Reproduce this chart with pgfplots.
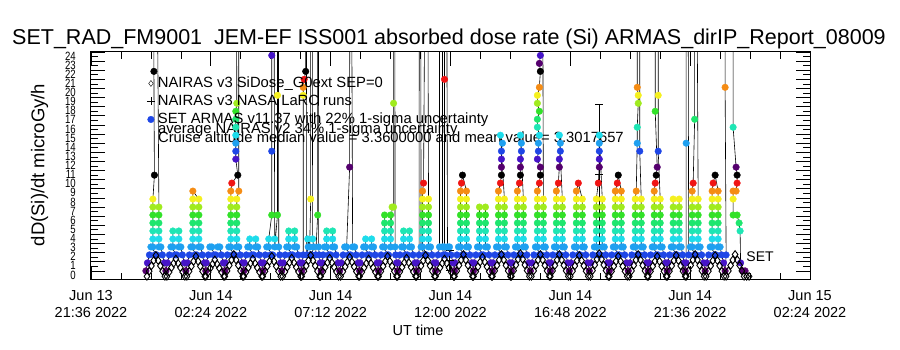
\documentclass[border=0pt]{standalone}
\usepackage{fontspec}
\setmainfont{Liberation Sans}
\newfontfamily\narrowfont{Liberation Sans}[FakeStretch=0.8]
\usepackage{pgfplots}
\usepackage{pgfplotstable}
\pgfplotsset{compat=1.18}
\definecolor{cblue}{RGB}{30,70,230}
\definecolor{k0}{RGB}{85,0,110}
\definecolor{k1}{RGB}{70,20,200}
\definecolor{k2}{RGB}{30,70,230}
\definecolor{k3}{RGB}{30,160,240}
\definecolor{k4}{RGB}{30,220,235}
\definecolor{k5}{RGB}{30,230,180}
\definecolor{k6}{RGB}{30,230,110}
\definecolor{k7}{RGB}{50,225,40}
\definecolor{k8}{RGB}{160,235,30}
\definecolor{k9}{RGB}{245,240,30}
\definecolor{k10}{RGB}{245,140,20}
\definecolor{k11}{RGB}{240,20,20}
\definecolor{k12}{RGB}{0,0,0}
\newcommand\legfont{\fontsize{14.8}{16}\selectfont}
\newcommand\tkfont{\fontsize{14.5}{16.5}\selectfont}

% SET ARMAS dose rate (x: hours after Jun 13 21:36 UT, y: microGy/h, c: colour class)
\pgfplotstableread[row sep=\\]{
x y c\\
2.20 0 0\\2.26 0.875 1\\2.34 1.75 2\\2.56 1.75 2\\2.64 1.75 2\\2.40 2.625 3\\2.48 2.625 3\\2.48 3.5 4\\2.48 4.375 5\\2.48 5.25 6\\2.48 6.125 7\\2.48 7 8\\2.48 7.875 9\\2.54 10.5 12\\2.52 21.875 12\\2.50 60 0\\2.58 60 0\\2.72 7 8\\2.72 6.125 7\\2.72 5.25 6\\2.72 4.375 5\\2.72 3.5 4\\2.72 2.625 3\\2.80 2.625 3\\2.86 1.75 2\\2.94 0.875 1\\3.00 0 0\\
3.06 0.875 1\\3.14 1.75 2\\3.36 1.75 2\\3.44 1.75 2\\3.20 2.625 3\\3.28 2.625 3\\3.28 3.5 4\\3.28 4.375 5\\3.52 4.375 5\\3.52 3.5 4\\3.52 2.625 3\\3.60 2.625 3\\3.66 1.75 2\\3.74 0.875 1\\3.80 0 0\\
3.86 0.875 1\\3.94 1.75 2\\4.16 1.75 2\\4.24 1.75 2\\4.00 2.625 3\\4.08 2.625 3\\4.08 3.5 4\\4.08 4.375 5\\4.08 5.25 6\\4.08 6.125 7\\4.08 7 8\\4.08 7.875 9\\4.08 8.75 10\\4.32 7.875 9\\4.32 7 8\\4.32 6.125 7\\4.32 5.25 6\\4.32 4.375 5\\4.32 3.5 4\\4.32 2.625 3\\4.40 2.625 3\\4.46 1.75 2\\4.54 0.875 1\\4.60 0 0\\
4.62 0.875 1\\4.70 1.75 2\\4.92 1.75 2\\5.00 1.75 2\\4.76 2.625 3\\4.84 2.625 3\\5.08 2.625 3\\5.16 2.625 3\\5.22 1.75 2\\5.30 0.875 1\\5.36 0 0\\
5.38 0.875 1\\5.46 1.75 2\\5.68 1.75 2\\5.76 1.75 2\\5.52 2.625 3\\5.60 2.625 3\\5.60 3.5 4\\5.60 4.375 5\\5.60 5.25 6\\5.60 6.125 7\\5.60 7 8\\5.60 7.875 9\\5.60 8.75 10\\5.64 9.625 11\\5.88 10.5 12\\5.80 12.25 1\\5.80 13.125 2\\5.80 14 3\\5.80 14.875 4\\5.80 15.75 5\\5.80 16.625 6\\5.80 17.5 7\\5.84 18.375 8\\5.80 60 0\\5.92 60 0\\5.92 8.75 10\\5.84 7.875 9\\5.84 7 8\\5.84 6.125 7\\5.84 5.25 6\\5.84 4.375 5\\5.84 3.5 4\\5.84 2.625 3\\5.92 2.625 3\\5.98 1.75 2\\6.06 0.875 1\\6.12 0 0\\
6.14 0.875 1\\6.22 1.75 2\\6.44 1.75 2\\6.52 1.75 2\\6.28 2.625 3\\6.36 2.625 3\\6.36 3.5 4\\6.60 3.5 4\\6.60 2.625 3\\6.68 2.625 3\\6.74 1.75 2\\6.82 0.875 1\\6.88 0 0\\
6.90 0.875 1\\6.98 1.75 2\\7.20 1.75 2\\7.28 1.75 2\\7.04 2.625 3\\7.12 2.625 3\\7.12 3.5 4\\7.24 6.125 7\\7.24 13.125 2\\7.24 23.625 1\\7.25 60 0\\7.30 60 0\\7.36 3.5 4\\7.36 2.625 3\\7.47 6.125 7\\7.47 19.25 9\\7.47 60 0\\7.49 60 0\\7.52 2.625 3\\7.56 1.75 2\\7.60 0.875 1\\7.64 0 0\\
7.70 0.875 1\\7.78 1.75 2\\8.00 1.75 2\\8.08 1.75 2\\7.84 2.625 3\\7.92 2.625 3\\7.92 3.5 4\\7.92 4.375 5\\8.16 4.375 5\\8.16 3.5 4\\8.16 2.625 3\\8.24 2.625 3\\8.30 1.75 2\\8.38 0.875 1\\8.44 0 0\\
8.46 0.875 1\\8.50 1.75 2\\8.50 19.25 9\\8.50 20.125 10\\8.54 21 11\\8.60 21.875 12\\8.58 60 0\\8.62 60 0\\8.64 1.75 2\\8.70 2.625 3\\8.68 3.5 4\\8.76 2.625 3\\8.80 7.875 9\\8.80 60 0\\8.84 60 0\\8.88 3.5 4\\8.92 2.625 3\\8.84 1.75 2\\8.76 1.75 2\\9.00 1.75 2\\9.08 6.125 7\\9.08 60 0\\9.10 60 0\\9.12 2.625 3\\9.14 1.75 2\\9.18 0.875 1\\9.22 0 0\\
9.26 0.875 1\\9.30 1.75 2\\9.52 1.75 2\\9.60 1.75 2\\9.36 2.625 3\\9.44 2.625 3\\9.44 3.5 4\\9.44 4.375 5\\9.68 4.375 5\\9.68 3.5 4\\9.68 2.625 3\\9.76 2.625 3\\9.82 1.75 2\\9.90 0.875 1\\9.96 0 0\\
10.02 0.875 1\\10.10 1.75 2\\10.32 1.75 2\\10.40 1.75 2\\10.16 2.625 3\\10.24 2.625 3\\10.36 11.375 0\\10.37 60 0\\10.40 60 0\\10.48 2.625 3\\10.56 2.625 3\\10.62 1.75 2\\10.70 0.875 1\\10.76 0 0\\
10.78 0.875 1\\10.86 1.75 2\\11.08 1.75 2\\11.16 1.75 2\\10.92 2.625 3\\11.00 2.625 3\\11.00 3.5 4\\11.24 3.5 4\\11.24 2.625 3\\11.32 2.625 3\\11.38 1.75 2\\11.46 0.875 1\\11.52 0 0\\
11.54 0.875 1\\11.62 1.75 2\\11.84 1.75 2\\11.92 1.75 2\\11.68 2.625 3\\11.76 2.625 3\\11.76 3.5 4\\11.76 4.375 5\\11.76 5.25 6\\11.76 6.125 7\\12.00 6.125 7\\12.00 5.25 6\\12.00 4.375 5\\12.00 3.5 4\\12.00 2.625 3\\12.06 7 8\\12.12 7 8\\12.12 18.375 8\\12.12 60 0\\12.16 60 0\\12.18 2.625 3\\12.20 1.75 2\\12.24 0.875 1\\12.28 0 0\\
12.30 0.875 1\\12.38 1.75 2\\12.60 1.75 2\\12.68 1.75 2\\12.44 2.625 3\\12.52 2.625 3\\12.52 3.5 4\\12.52 4.375 5\\12.76 4.375 5\\12.76 3.5 4\\12.76 2.625 3\\12.84 2.625 3\\12.90 1.75 2\\12.98 0.875 1\\13.04 0 0\\
13.06 0.875 1\\13.14 1.75 2\\13.16 60 0\\13.20 60 0\\13.22 2.625 3\\13.36 1.75 2\\13.44 1.75 2\\13.28 2.625 3\\13.28 3.5 4\\13.28 4.375 5\\13.28 5.25 6\\13.28 6.125 7\\13.28 7 8\\13.28 7.875 9\\13.28 8.75 10\\13.32 9.625 11\\13.44 60 0\\13.46 60 0\\13.52 7.875 9\\13.52 7 8\\13.52 6.125 7\\13.52 5.25 6\\13.52 4.375 5\\13.52 3.5 4\\13.52 2.625 3\\13.60 2.625 3\\13.66 1.75 2\\13.74 0.875 1\\13.80 0 0\\
13.82 0.875 1\\13.90 1.75 2\\13.96 2.625 3\\13.96 60 0\\14.08 60 0\\14.08 2.625 3\\14.12 1.75 2\\14.20 1.75 2\\14.16 2.625 3\\14.16 21 11\\14.18 60 0\\14.22 60 0\\14.28 2.625 3\\14.36 2.625 3\\14.42 1.75 2\\14.50 0.875 1\\14.56 0 0\\
14.58 0.875 1\\14.66 1.75 2\\14.88 1.75 2\\14.96 1.75 2\\14.72 2.625 3\\14.80 2.625 3\\14.80 3.5 4\\14.80 4.375 5\\14.80 5.25 6\\14.80 6.125 7\\14.80 7 8\\14.80 7.875 9\\14.80 8.75 10\\14.84 9.625 11\\14.88 10.5 12\\15.04 8.75 10\\15.04 7.875 9\\15.04 7 8\\15.04 6.125 7\\15.04 5.25 6\\15.04 4.375 5\\15.04 3.5 4\\15.04 2.625 3\\15.12 2.625 3\\15.18 1.75 2\\15.26 0.875 1\\15.32 0 0\\
15.34 0.875 1\\15.42 1.75 2\\15.64 1.75 2\\15.72 1.75 2\\15.48 2.625 3\\15.56 2.625 3\\15.56 3.5 4\\15.56 4.375 5\\15.56 5.25 6\\15.56 6.125 7\\15.56 7 8\\15.80 7 8\\15.80 6.125 7\\15.80 5.25 6\\15.80 4.375 5\\15.80 3.5 4\\15.80 2.625 3\\15.88 2.625 3\\15.94 1.75 2\\16.02 0.875 1\\16.08 0 0\\
16.10 0.875 1\\16.18 1.75 2\\16.40 1.75 2\\16.48 1.75 2\\16.24 2.625 3\\16.32 2.625 3\\16.32 3.5 4\\16.32 4.375 5\\16.32 5.25 6\\16.32 6.125 7\\16.32 7 8\\16.32 7.875 9\\16.32 8.75 10\\16.40 9.625 11\\16.44 10.5 12\\16.44 11.375 0\\16.44 12.25 1\\16.44 13.125 2\\16.48 14 3\\16.40 14.875 4\\16.56 7.875 9\\16.56 7 8\\16.56 6.125 7\\16.56 5.25 6\\16.56 4.375 5\\16.56 3.5 4\\16.56 2.625 3\\16.64 2.625 3\\16.70 1.75 2\\16.78 0.875 1\\16.84 0 0\\
16.86 0.875 1\\16.94 1.75 2\\17.16 1.75 2\\17.24 1.75 2\\17.00 2.625 3\\17.08 2.625 3\\17.08 3.5 4\\17.08 4.375 5\\17.08 5.25 6\\17.08 6.125 7\\17.08 7 8\\17.08 7.875 9\\17.08 8.75 10\\17.16 9.625 11\\17.20 10.5 12\\17.20 11.375 0\\17.20 12.25 1\\17.24 13.125 2\\17.24 14 3\\17.20 14.875 4\\17.32 7.875 9\\17.32 7 8\\17.32 6.125 7\\17.32 5.25 6\\17.32 4.375 5\\17.32 3.5 4\\17.32 2.625 3\\17.40 2.625 3\\17.46 1.75 2\\17.54 0.875 1\\17.60 0 0\\
17.66 0.875 1\\17.74 1.75 2\\17.96 1.75 2\\18.04 1.75 2\\17.80 2.625 3\\17.88 2.625 3\\17.88 3.5 4\\17.88 4.375 5\\17.88 5.25 6\\17.88 6.125 7\\17.88 7 8\\17.88 7.875 9\\17.88 8.75 10\\17.96 9.625 11\\18.00 10.5 12\\18.00 11.375 0\\17.88 12.25 1\\17.92 13.125 2\\17.92 14 3\\17.96 14.875 4\\17.88 15.75 5\\17.88 16.625 6\\17.96 17.5 7\\17.88 18.375 8\\17.88 19.25 9\\17.96 20.125 10\\18.00 21.875 12\\17.96 22.75 0\\18.00 23.625 1\\17.98 60 0\\18.06 60 0\\18.12 7.875 9\\18.12 7 8\\18.12 6.125 7\\18.12 5.25 6\\18.12 4.375 5\\18.12 3.5 4\\18.12 2.625 3\\18.20 2.625 3\\18.26 1.75 2\\18.34 0.875 1\\18.40 0 0\\
18.42 0.875 1\\18.50 1.75 2\\18.72 1.75 2\\18.80 1.75 2\\18.56 2.625 3\\18.64 2.625 3\\18.64 3.5 4\\18.64 4.375 5\\18.64 5.25 6\\18.64 6.125 7\\18.64 7 8\\18.64 7.875 9\\18.64 8.75 10\\18.72 9.625 11\\18.76 11.375 0\\18.76 12.25 1\\18.80 13.125 2\\18.80 14 3\\18.76 14.875 4\\18.88 7.875 9\\18.88 7 8\\18.88 6.125 7\\18.88 5.25 6\\18.88 4.375 5\\18.88 3.5 4\\18.88 2.625 3\\18.96 2.625 3\\19.02 1.75 2\\19.10 0.875 1\\19.16 0 0\\
19.22 0.875 1\\19.30 1.75 2\\19.52 1.75 2\\19.60 1.75 2\\19.36 2.625 3\\19.44 2.625 3\\19.44 3.5 4\\19.44 4.375 5\\19.44 5.25 6\\19.44 6.125 7\\19.44 7 8\\19.44 7.875 9\\19.44 8.75 10\\19.52 9.625 11\\19.68 7.875 9\\19.68 7 8\\19.68 6.125 7\\19.68 5.25 6\\19.68 4.375 5\\19.68 3.5 4\\19.68 2.625 3\\19.76 2.625 3\\19.82 1.75 2\\19.90 0.875 1\\19.96 0 0\\
20.02 0.875 1\\20.10 1.75 2\\20.32 1.75 2\\20.40 1.75 2\\20.16 2.625 3\\20.24 2.625 3\\20.24 3.5 4\\20.24 4.375 5\\20.24 5.25 6\\20.24 6.125 7\\20.24 7 8\\20.24 7.875 9\\20.32 9.625 11\\20.36 11.375 0\\20.36 12.25 1\\20.36 13.125 2\\20.36 14 3\\20.36 14.875 4\\20.48 7.875 9\\20.48 7 8\\20.48 6.125 7\\20.48 5.25 6\\20.48 4.375 5\\20.48 3.5 4\\20.48 2.625 3\\20.56 2.625 3\\20.62 1.75 2\\20.70 0.875 1\\20.76 0 0\\
20.78 0.875 1\\20.86 1.75 2\\21.08 1.75 2\\21.16 1.75 2\\20.92 2.625 3\\21.00 2.625 3\\21.00 3.5 4\\21.00 4.375 5\\21.00 5.25 6\\21.00 6.125 7\\21.00 7 8\\21.00 7.875 9\\21.00 8.75 10\\21.08 9.625 11\\21.12 10.5 12\\21.24 8.75 10\\21.24 7.875 9\\21.24 7 8\\21.24 6.125 7\\21.24 5.25 6\\21.24 4.375 5\\21.24 3.5 4\\21.24 2.625 3\\21.32 2.625 3\\21.38 1.75 2\\21.46 0.875 1\\21.52 0 0\\
21.58 0.875 1\\21.66 1.75 2\\21.88 1.75 2\\21.96 1.75 2\\21.72 2.625 3\\21.80 2.625 3\\21.80 3.5 4\\21.80 4.375 5\\21.80 5.25 6\\21.80 6.125 7\\21.80 7 8\\21.80 7.875 9\\21.84 8.75 10\\21.88 14 3\\21.88 15.75 5\\21.92 18.375 8\\21.92 19.25 9\\21.88 20.125 10\\21.90 60 0\\21.98 60 0\\21.98 13.125 2\\22.04 7.875 9\\22.04 7 8\\22.04 6.125 7\\22.04 5.25 6\\22.04 4.375 5\\22.04 3.5 4\\22.04 2.625 3\\22.12 2.625 3\\22.18 1.75 2\\22.26 0.875 1\\22.32 0 0\\
22.34 0.875 1\\22.42 1.75 2\\22.64 1.75 2\\22.72 1.75 2\\22.48 2.625 3\\22.56 2.625 3\\22.56 3.5 4\\22.56 4.375 5\\22.56 5.25 6\\22.56 6.125 7\\22.56 7 8\\22.56 7.875 9\\22.56 8.75 10\\22.60 9.625 11\\22.64 10.5 12\\22.68 11.375 0\\22.60 17.5 7\\22.60 60 0\\22.72 60 0\\22.72 19.25 9\\22.72 13.125 2\\22.80 7.875 9\\22.80 7 8\\22.80 6.125 7\\22.80 5.25 6\\22.80 4.375 5\\22.80 3.5 4\\22.80 2.625 3\\22.88 2.625 3\\22.94 1.75 2\\23.02 0.875 1\\23.08 0 0\\
23.10 0.875 1\\23.18 1.75 2\\23.40 1.75 2\\23.48 1.75 2\\23.24 2.625 3\\23.32 2.625 3\\23.32 3.5 4\\23.32 4.375 5\\23.32 5.25 6\\23.32 6.125 7\\23.32 7 8\\23.32 7.875 9\\23.56 7.875 9\\23.56 7 8\\23.56 6.125 7\\23.56 5.25 6\\23.56 4.375 5\\23.56 3.5 4\\23.56 2.625 3\\23.64 2.625 3\\23.70 1.75 2\\23.76 0.875 1\\
23.80 0 0\\23.84 0.875 1\\23.84 14 3\\23.84 60 0\\23.90 60 0\\23.94 1.75 2\\24.16 1.75 2\\24.24 1.75 2\\24.00 2.625 3\\24.08 2.625 3\\24.08 3.5 4\\24.08 4.375 5\\24.08 5.25 6\\24.08 6.125 7\\24.08 7 8\\24.08 7.875 9\\24.08 8.75 10\\24.12 9.625 11\\24.18 16.625 6\\24.16 60 0\\24.22 60 0\\24.32 7.875 9\\24.32 7 8\\24.32 6.125 7\\24.32 5.25 6\\24.32 4.375 5\\24.32 3.5 4\\24.32 2.625 3\\24.40 2.625 3\\24.46 1.75 2\\24.54 0.875 1\\24.60 0 0\\
24.66 0.875 1\\24.74 1.75 2\\24.96 1.75 2\\25.04 1.75 2\\24.80 2.625 3\\24.88 2.625 3\\24.88 3.5 4\\24.88 4.375 5\\24.88 5.25 6\\24.88 6.125 7\\24.88 7 8\\24.88 7.875 9\\24.88 8.75 10\\24.92 9.625 11\\25.00 10.5 12\\25.12 8.75 10\\25.12 7.875 9\\25.12 7 8\\25.12 6.125 7\\25.12 5.25 6\\25.12 4.375 5\\25.12 3.5 4\\25.12 2.625 3\\25.20 2.625 3\\25.26 1.75 2\\25.34 0.875 1\\25.40 0 0\\
25.44 1.75 2\\25.40 20.125 10\\25.40 60 0\\25.72 60 0\\25.72 15.75 5\\25.84 11.375 0\\25.88 10.5 12\\25.88 9.625 11\\25.84 8.75 10\\25.72 8.75 10\\25.72 7.875 9\\25.72 6.125 7\\25.88 6.125 7\\25.96 5.25 6\\26.00 4.375 5\\26.02 0.875 1\\26.10 0 0\\26.20 0 0\\
}\armas

% NAIRAS v3 SiDose model
\pgfplotstableread[row sep=\\]{
x y\\
2.24 -0.6\\2.33 -0.03\\2.42 0.55\\2.51 1.13\\2.60 1.7\\2.69 1.13\\2.78 0.55\\2.87 -0.03\\2.96 -0.6\\
3.04 -0.6\\3.13 -0.13\\3.22 0.35\\3.31 0.83\\3.40 1.3\\3.49 0.83\\3.58 0.35\\3.67 -0.13\\3.76 -0.6\\
3.84 -0.6\\3.93 -0.05\\4.02 0.5\\4.11 1.05\\4.20 1.6\\4.29 1.05\\4.38 0.5\\4.47 -0.05\\4.56 -0.6\\
4.60 -0.6\\4.69 -0.15\\4.78 0.3\\4.87 0.75\\4.96 1.2\\5.05 0.75\\5.14 0.3\\5.23 -0.15\\5.32 -0.6\\
5.36 -0.6\\5.45 0\\5.54 0.6\\5.63 1.2\\5.72 1.8\\5.81 1.2\\5.90 0.6\\5.99 0\\6.08 -0.6\\
6.12 -0.6\\6.21 -0.13\\6.30 0.35\\6.39 0.83\\6.48 1.3\\6.57 0.83\\6.66 0.35\\6.75 -0.13\\6.84 -0.6\\
6.88 -0.6\\6.97 -0.05\\7.06 0.5\\7.15 1.05\\7.24 1.6\\7.33 1.05\\7.42 0.5\\7.51 -0.05\\7.60 -0.6\\
7.68 -0.6\\7.77 -0.1\\7.86 0.4\\7.95 0.9\\8.04 1.4\\8.13 0.9\\8.22 0.4\\8.31 -0.1\\8.40 -0.6\\
8.44 -0.6\\8.53 -0.03\\8.62 0.55\\8.71 1.13\\8.80 1.7\\8.89 1.13\\8.98 0.55\\9.07 -0.03\\9.16 -0.6\\
9.20 -0.6\\9.29 -0.1\\9.38 0.4\\9.47 0.9\\9.56 1.4\\9.65 0.9\\9.74 0.4\\9.83 -0.1\\9.92 -0.6\\
10.00 -0.6\\10.09 -0.08\\10.18 0.45\\10.27 0.98\\10.36 1.5\\10.45 0.98\\10.54 0.45\\10.63 -0.08\\10.72 -0.6\\
10.76 -0.6\\10.85 -0.13\\10.94 0.35\\11.03 0.83\\11.12 1.3\\11.21 0.83\\11.30 0.35\\11.39 -0.13\\11.48 -0.6\\
11.52 -0.6\\11.61 -0.05\\11.70 0.5\\11.79 1.05\\11.88 1.6\\11.97 1.05\\12.06 0.5\\12.15 -0.05\\12.24 -0.6\\
12.28 -0.6\\12.37 -0.1\\12.46 0.4\\12.55 0.9\\12.64 1.4\\12.73 0.9\\12.82 0.4\\12.91 -0.1\\13.00 -0.6\\
13.04 -0.6\\13.13 -0.03\\13.22 0.55\\13.31 1.13\\13.40 1.7\\13.49 1.13\\13.58 0.55\\13.67 -0.03\\13.76 -0.6\\
13.80 -0.6\\13.89 -0.13\\13.98 0.35\\14.07 0.83\\14.16 1.3\\14.25 0.83\\14.34 0.35\\14.43 -0.13\\14.52 -0.6\\
14.56 -0.6\\14.65 0\\14.74 0.6\\14.83 1.2\\14.92 1.8\\15.01 1.2\\15.10 0.6\\15.19 0\\15.28 -0.6\\
15.32 -0.6\\15.41 -0.08\\15.50 0.45\\15.59 0.98\\15.68 1.5\\15.77 0.98\\15.86 0.45\\15.95 -0.08\\16.04 -0.6\\
16.08 -0.6\\16.17 0\\16.26 0.6\\16.35 1.2\\16.44 1.8\\16.53 1.2\\16.62 0.6\\16.71 0\\16.80 -0.6\\
16.84 -0.6\\16.93 0.03\\17.02 0.65\\17.11 1.28\\17.20 1.9\\17.29 1.28\\17.38 0.65\\17.47 0.03\\17.56 -0.6\\
17.64 -0.6\\17.73 0\\17.82 0.6\\17.91 1.2\\18.00 1.8\\18.09 1.2\\18.18 0.6\\18.27 0\\18.36 -0.6\\
18.40 -0.6\\18.49 0\\18.58 0.6\\18.67 1.2\\18.76 1.8\\18.85 1.2\\18.94 0.6\\19.03 0\\19.12 -0.6\\
19.20 -0.6\\19.29 -0.03\\19.38 0.55\\19.47 1.13\\19.56 1.7\\19.65 1.13\\19.74 0.55\\19.83 -0.03\\19.92 -0.6\\
20.00 -0.6\\20.09 0.03\\20.18 0.65\\20.27 1.28\\20.36 1.9\\20.45 1.28\\20.54 0.65\\20.63 0.03\\20.72 -0.6\\
20.76 -0.6\\20.85 -0.05\\20.94 0.5\\21.03 1.05\\21.12 1.6\\21.21 1.05\\21.30 0.5\\21.39 -0.05\\21.48 -0.6\\
21.56 -0.6\\21.65 0\\21.74 0.6\\21.83 1.2\\21.92 1.8\\22.01 1.2\\22.10 0.6\\22.19 0\\22.28 -0.6\\
22.32 -0.6\\22.41 -0.05\\22.50 0.5\\22.59 1.05\\22.68 1.6\\22.77 1.05\\22.86 0.5\\22.95 -0.05\\23.04 -0.6\\
23.08 -0.6\\23.17 -0.03\\23.26 0.55\\23.35 1.13\\23.44 1.7\\23.53 1.13\\23.62 0.55\\23.71 -0.03\\23.80 -0.6\\
23.84 -0.6\\23.93 0\\24.02 0.6\\24.11 1.2\\24.20 1.8\\24.29 1.2\\24.38 0.6\\24.47 0\\24.56 -0.6\\
24.64 -0.6\\24.73 -0.03\\24.82 0.55\\24.91 1.13\\25.00 1.7\\25.09 1.13\\25.18 0.55\\25.27 -0.03\\25.36 -0.6\\
25.44 -0.6\\25.53 0\\25.62 0.6\\25.71 1.2\\25.80 1.8\\25.89 1.2\\25.98 0.6\\26.07 0\\26.16 -0.6\\26.26 -0.6\\26.36 -0.6\\
}\nairas

\begin{document}
\begin{tikzpicture}
\path[use as bounding box] (-91pt,-70pt) rectangle (809pt,280pt);
\begin{axis}[
  at={(0pt,0pt)}, anchor=south west,
  scale only axis, width=719pt, height=228pt,
  xmin=0, xmax=28.8, ymin=-1, ymax=24,
  xtick={0,4.8,9.6,14.4,19.2,24,28.8},
  xticklabels={{Jun 13\\21:36 2022},{Jun 14\\02:24 2022},{Jun 14\\07:12 2022},{Jun 14\\12:00 2022},{Jun 14\\16:48 2022},{Jun 14\\21:36 2022},{Jun 15\\02:24 2022}},
  minor x tick num=3,
  ytick={0,1,2,3,4,5,6,7,8,9,10,11,12,13,14,15,16,17,18,19,20,21,22,23,24},
  yticklabels={0,1,2,3,4,5,6,7,8,9,10,11,12,13,14,15,16,17,18,19,20,21,22,23,24},
  minor y tick num=1,
  tick align=inside, major tick length=14pt, minor tick length=7pt,
  axis line style={line width=1pt},
  tick style={black, line width=0.7pt},
  xticklabel style={align=center, font=\tkfont, inner sep=0pt, yshift=-10.5pt},
  yticklabel style={font=\narrowfont\fontsize{12}{12}\selectfont, anchor=east, inner sep=0pt, xshift=-15pt, yshift=-4pt},
  legend image code/.code={\draw[#1] plot coordinates {(0pt,0pt)};},
  legend style={at={(axis cs:2.24,21.29)}, anchor=north west, draw=none, fill=none, inner sep=0pt, outer sep=0pt, font=\legfont, row sep=4.5pt, column sep=3pt, nodes={inner sep=0pt, text height=10.5pt, text depth=3pt}},
  legend cell align=left,
]
\addlegendimage{only marks, mark=diamond, mark size=3pt, black}
\addlegendentry{NAIRAS v3 SiDose\_G0ext SEP=0}
\addlegendimage{only marks, mark=+, mark size=4pt, black}
\addlegendentry{NAIRAS v3 NASA LaRC runs}
\addlegendimage{only marks, mark=*, mark size=3.3pt, cblue}
\addlegendentry{SET ARMAS v11.37 with 22\% 1-sigma uncertainty}

\addplot[black, line width=0.6pt, forget plot] table[x=x, y=y] {\armas};
\addplot[scatter, only marks, mark=*, mark size=3.3pt, forget plot,
  scatter src=explicit symbolic,
  scatter/classes={
    0={draw=k0,fill=k0},
    1={draw=k1,fill=k1},
    2={draw=k2,fill=k2},
    3={draw=k3,fill=k3},
    4={draw=k4,fill=k4},
    5={draw=k5,fill=k5},
    6={draw=k6,fill=k6},
    7={draw=k7,fill=k7},
    8={draw=k8,fill=k8},
    9={draw=k9,fill=k9},
    10={draw=k10,fill=k10},
    11={draw=k11,fill=k11},
    12={draw=k12,fill=k12}}]
  table[x=x, y=y, meta=c] {\armas};
\addplot[black, only marks, mark=diamond, mark size=3.8pt, mark options={line width=0.9pt}, forget plot]
  table[x=x, y=y] {\nairas};
\addplot[black, only marks, mark=+, mark size=4pt, line width=0.8pt, forget plot,
  error bars/.cd, y dir=both, y explicit, error mark options={rotate=90, mark size=4pt, black}]
  table[row sep=\\, x=x, y=y, y error=e] {x y e\\ 14.36 1.2 1.1\\ 20.36 10.6 7.7\\};

\node[anchor=base west, font=\legfont, inner sep=0pt] at (axis cs:2.68,15.02) {average NAIRAS v2 34\% 1-sigma uncertainty};
\node[anchor=base west, font=\legfont, inner sep=0pt] at (axis cs:2.68,14.09) {Cruise altitude median value = 3.3600000 and mean value= 3.3017657};
\node[font=\fontsize{14}{14}\selectfont] at (axis cs:26.8,1.56) {SET};
\end{axis}
\node[anchor=base, font=\fontsize{21.5}{24}\selectfont] at (358pt,235pt) {SET\_RAD\_FM9001\ \ JEM-EF ISS001 absorbed dose rate (Si) ARMAS\_dirIP\_Report\_08009};
\node[rotate=90, anchor=base, font=\fontsize{18.5}{20}\selectfont] at (-46.5pt,115pt) {dD(Si)/dt microGy/h};
\node[anchor=base, font=\tkfont] at (327pt,-56pt) {UT time};
\end{tikzpicture}
\end{document}
